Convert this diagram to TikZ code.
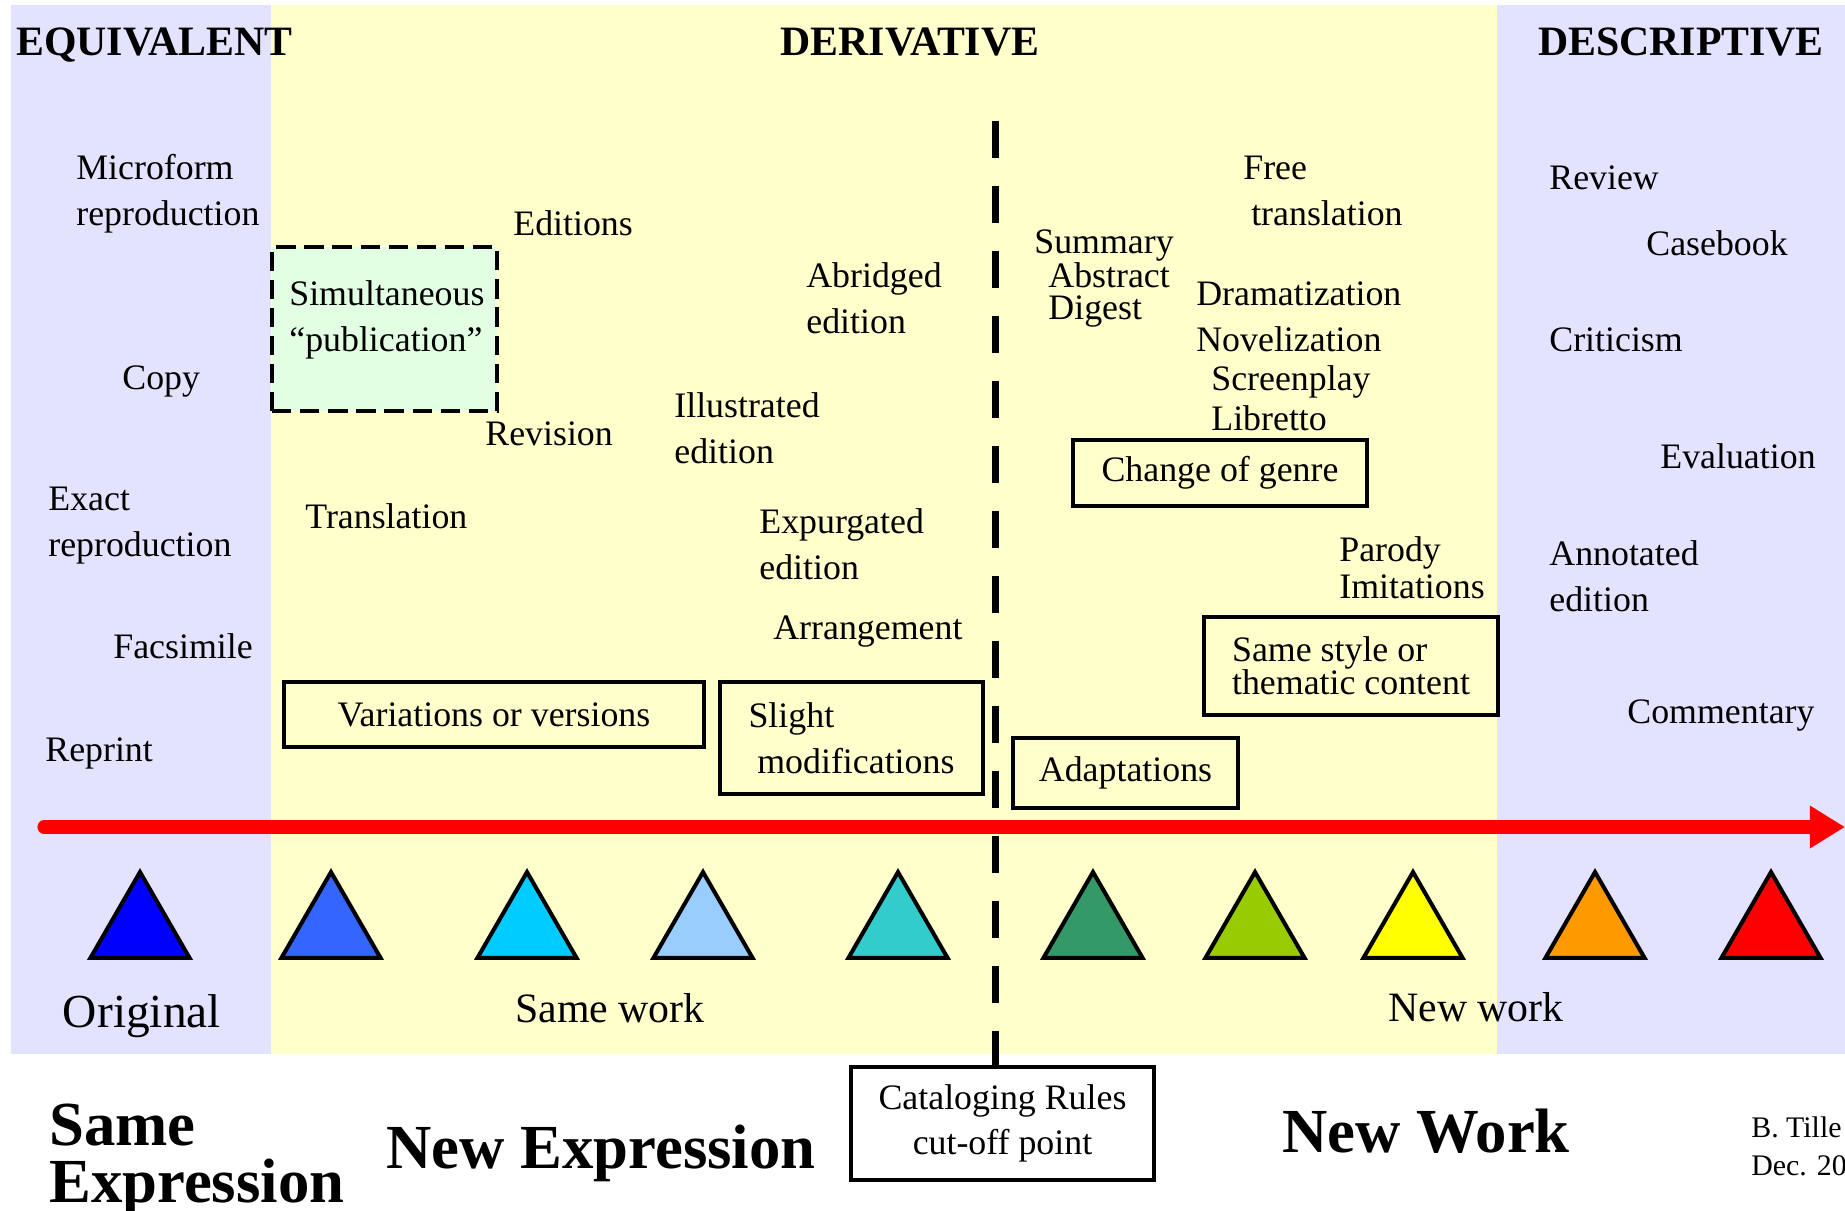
\documentclass[tikz,border=0pt]{standalone}
\usepackage{fontspec}
\setmainfont{Liberation Serif}
\usetikzlibrary{shapes.geometric,arrows.meta}

\definecolor{equivfill}{HTML}{E3E3FF}
\definecolor{derivfill}{HTML}{FFFFCC}
\definecolor{simulfill}{HTML}{E3FFE3}
\definecolor{tri1}{HTML}{0000FF}
\definecolor{tri2}{HTML}{3366FF}
\definecolor{tri3}{HTML}{00CCFF}
\definecolor{tri4}{HTML}{99CCFF}
\definecolor{tri5}{HTML}{33CCCC}
\definecolor{tri6}{HTML}{339966}
\definecolor{tri7}{HTML}{99CC00}
\definecolor{tri8}{HTML}{FFFF00}
\definecolor{tri9}{HTML}{FF9900}
\definecolor{tri10}{HTML}{FF0000}

\begin{document}
\begin{tikzpicture}[x=0.02cm,y=-0.02cm,
	lbl/.style={anchor=base west,align=left,inner sep=0pt,font=\fontsize{20.4}{26}\selectfont},
	tight/.style={font=\fontsize{20.4}{18}\selectfont},
	head/.style={anchor=base,inner sep=0pt,font=\fontsize{23.8}{28}\selectfont\bfseries},
	big/.style={anchor=base west,align=left,inner sep=0pt,font=\fontsize{35.7}{32.3}\selectfont\bfseries},
	box/.style={draw,line width=2.3pt,align=left,inner sep=0pt,font=\fontsize{20.4}{26}\selectfont},
	tri/.style={draw,line width=2.3pt,regular polygon,regular polygon sides=3,minimum size=2.286cm,inner sep=0pt,outer sep=0pt}]

\useasboundingbox (0,0) rectangle (1845,1210);
\fill[white] (0,0) rectangle (1845,1210);
\fill[equivfill] (11,5) rectangle (271,1054);
\fill[derivfill] (271,5) rectangle (1497,1054);
\fill[equivfill] (1497,5) rectangle (1845,1054);

\node[head,anchor=base west] (equivalent) at (16,55) {EQUIVALENT};
\node[head] (derivative) at (910,55) {DERIVATIVE};
\node[head] (descriptive) at (1681,55) {DESCRIPTIVE};

\node[lbl] (microform) at (76,225) {Microform\\reproduction};
\node[lbl] (copy) at (122,389) {Copy};
\node[lbl] (exact) at (48,556) {Exact\\reproduction};
\node[lbl] (facsimile) at (113,658) {Facsimile};
\node[lbl] (reprint) at (45,761) {Reprint};

\node[draw,dash pattern=on 11pt off 5pt,line width=2.5pt,fill=simulfill,minimum width=4.5cm,minimum height=3.28cm,inner sep=0pt] (simul) at (384.5,329) {};
\node[lbl] (simultaneous) at (289,351) {Simultaneous\\“publication”};
\node[lbl] (editions) at (513,235) {Editions};
\node[lbl] (revision) at (485,445) {Revision};
\node[lbl] (translation) at (305,528) {Translation};
\node[lbl] (abridged) at (806,333) {Abridged\\edition};
\node[lbl] (illustrated) at (674,463) {Illustrated\\edition};
\node[lbl] (expurgated) at (759,579) {Expurgated\\edition};
\node[lbl] (arrangement) at (773,639) {Arrangement};
\node[box,minimum width=8.4cm,minimum height=1.3cm] (variations) at (494,714.5) {Variations or versions};
\node[box,minimum width=5.26cm,minimum height=2.24cm] (slight) at (851.5,738) {Slight\\\hspace*{5pt}modifications};

\node[lbl] (free) at (1243,225) {Free\\\hspace*{4.5pt}translation};
\node[lbl,tight] (summary) at (1034,319) {Summary\\\hspace*{8pt}Abstract\\\hspace*{8pt}Digest};
\node[lbl] (dramatization) at (1196,305) {Dramatization};
\node[lbl] (novelization) at (1196,351) {Novelization};
\node[lbl] (screenplay) at (1211,390) {Screenplay};
\node[lbl] (libretto) at (1211,430) {Libretto};
\node[box,minimum width=5.88cm,minimum height=1.32cm] (genre) at (1220,473) {Change of genre};
\node[lbl,font=\fontsize{20.4}{21}\selectfont] (parody) at (1339,598) {Parody\\Imitations};
\node[box,minimum width=5.88cm,minimum height=1.96cm,font=\fontsize{20.4}{18.7}\selectfont] (style) at (1351,666) {Same style or\\thematic content};
\node[box,minimum width=4.5cm,minimum height=1.4cm] (adaptations) at (1125.5,773) {Adaptations};

\node[lbl] (review) at (1549,189) {Review};
\node[lbl] (casebook) at (1646,255) {Casebook};
\node[lbl] (criticism) at (1549,351) {Criticism};
\node[lbl] (evaluation) at (1660,468) {Evaluation};
\node[lbl] (annotated) at (1549,611) {Annotated\\edition};
\node[lbl] (commentary) at (1627,723) {Commentary};

\coordinate (axis start) at (44,827);
\coordinate (axis end) at (1845,827);
\draw[red,line width=7.5pt,line cap=round,-{Triangle[length=20pt,width=23pt]}] (axis start) -- (axis end);

\foreach \i/\x in {1/140,2/331,3/527,4/703,5/898,6/1093,7/1255,8/1413,9/1595,10/1771}
{
	\node[tri,fill=tri\i] (t\i) at (\x,929.2) {};
};

\node[anchor=base,inner sep=0pt,font=\fontsize{27}{30}\selectfont] (original) at (142,1027) {Original};
\node[anchor=base,inner sep=0pt,font=\fontsize{23.8}{28}\selectfont] (same work) at (610,1022) {Same work};
\node[anchor=base,inner sep=0pt,font=\fontsize{23.8}{28}\selectfont] (new work) at (1476,1021) {New work};

\coordinate (cut top) at (995,121);
\node[box,align=center,minimum width=6.06cm,minimum height=2.26cm,font=\fontsize{20.4}{25.5}\selectfont] (rules) at (1002.5,1123.5) {Cataloging Rules\\cut-off point};
\draw[line width=4pt,dash pattern=on 21pt off 16pt] (cut top) -- (cut top |- rules.north);

\node[big] (same expression) at (49,1202) {Same\\Expression};
\node[big] (new expression) at (386,1168) {New Expression};
\node[big,anchor=base] (new work big) at (1426,1152) {New Work};
\node[anchor=base west,align=left,inner sep=0pt,font=\fontsize{17}{21.5}\selectfont] (tillett) at (1751,1175) {B. Tille\\Dec. 20};
\end{tikzpicture}
\end{document}
